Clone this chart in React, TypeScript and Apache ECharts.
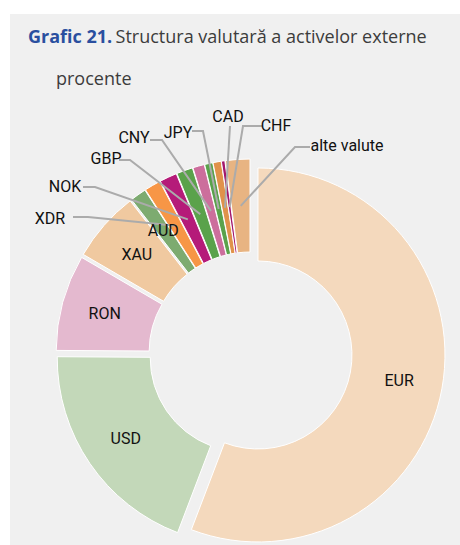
import React, { useEffect, useRef } from "react";
import * as echarts from "echarts";

// ---- data ----
const categories = ["EUR", "USD", "RON", "XAU", "AUD", "XDR", "NOK", "GBP", "CNY", "JPY", "CAD", "CHF", "alte valute"];
const shares = [55.8, 19.3, 8.3, 6.1, 1.4, 1.4, 1.5, 1.4, 1.0, 0.7, 0.7, 0.3, 2.1];
const insideLabelled = ["EUR", "USD", "RON", "XAU", "AUD"];
const titleBold = "Grafic 21.";
const titleRest = "Structura valutară a activelor externe";
const unitText = "procente";

// ---- styles / layout ----
const sliceColors = [
  "#f4d9bd", "#c3d8b9", "#e4b9cf", "#f0c9a0", "#7dab70", "#f79646", "#b51b79",
  "#5aa24b", "#cc6e9c", "#5aa24b", "#e0924a", "#a3176c", "#e8b482",
];
const W = 460;
const H = 545;
const CX = 250.5;
const CY = 353.6;
const R0 = 94;
const R1 = 187;
const EXPLODE = 7.6;

// label text position and line elbow points (text side first)
const outsideLayout: Record<string, { x: number; y: number; pts: number[][] }> = {
  XDR: { x: 50, y: 218, pts: [[73, 217], [88, 217]] },
  NOK: { x: 65, y: 186, pts: [[83, 187], [95, 187]] },
  GBP: { x: 106, y: 158, pts: [[119, 160], [130, 160]] },
  CNY: { x: 134, y: 137, pts: [[150, 140], [162, 140]] },
  JPY: { x: 178, y: 132, pts: [[192, 131], [203, 131]] },
  CAD: { x: 228, y: 116, pts: [[230, 126], [230, 126]] },
  CHF: { x: 276, y: 125, pts: [[262, 126], [243, 126]] },
  "alte valute": { x: 347, y: 145, pts: [[310, 147], [295, 147]] },
};

function midPoint(index: number): number[] {
  const total = shares.reduce((a, b) => a + b, 0);
  let cum = 0;
  for (let i = 0; i < index; i++) cum += shares[i];
  const theta = ((cum + shares[index] / 2) / total) * Math.PI * 2;
  const r = EXPLODE + (R0 + R1) / 2;
  return [CX + r * Math.sin(theta), CY - r * Math.cos(theta)];
}

export default function App() {
  const ref = useRef<HTMLDivElement>(null);
  useEffect(() => {
    if (!ref.current) return;
    const chart = echarts.init(ref.current, null, { renderer: "svg" });
    const labelFont = {
      color: "#111111",
      fontFamily: "Roboto, sans-serif",
      fontSize: 16,
    };
    const common = {
      type: "pie",
      center: [CX, CY],
      radius: [R0, R1],
      startAngle: 90,
      clockwise: true,
      avoidLabelOverlap: false,
      emphasis: { disabled: true },
      silent: true,
    };
    chart.setOption({
      animation: false,
      backgroundColor: "#ffffff",
      graphic: [
        {
          type: "rect",
          z: 0,
          shape: { x: 10, y: 14, width: 450, height: 531 },
          style: { fill: "#f0f0f0" },
        },
        {
          type: "text",
          z: 1,
          x: 28,
          y: 36,
          style: {
            text: `{b|${titleBold}} {n|${titleRest}}`,
            verticalAlign: "middle",
            rich: {
              b: { fontFamily: "'Open Sans', sans-serif", fontSize: 18, fontWeight: "bold", fill: "#2a4f9f" },
              n: { fontFamily: "'Open Sans', sans-serif", fontSize: 18, fill: "#3c3c3c" },
            },
          },
        },
        {
          type: "text",
          z: 1,
          x: 56,
          y: 78,
          style: {
            text: unitText,
            fontFamily: "'Open Sans', sans-serif",
            fontSize: 18,
            fill: "#3c3c3c",
            verticalAlign: "middle",
          },
        },
      ],
      series: [
        {
          ...common,
          z: 2,
          selectedMode: "multiple",
          selectedOffset: EXPLODE,
          itemStyle: { borderColor: "#ffffff", borderWidth: 1 },
          label: { show: false },
          labelLine: { show: false },
          data: categories.map((name, i) => ({
            name,
            value: shares[i],
            selected: true,
            itemStyle: { color: sliceColors[i] },
          })),
        },
        {
          ...common,
          z: 3,
          itemStyle: { color: "rgba(0,0,0,0)", borderWidth: 0 },
          label: { show: true, position: "outside", formatter: "{b}", ...labelFont },
          labelLine: { show: true, lineStyle: { color: "#ababab", width: 2 } },
          labelLayout: (params: any) => {
            const name = categories[params.dataIndex];
            const lay = outsideLayout[name];
            if (!lay) return {};
            const end = midPoint(params.dataIndex);
            return {
              x: lay.x,
              y: lay.y,
              align: "center",
              verticalAlign: "middle",
              labelLinePoints: [end, lay.pts[1], lay.pts[0]],
            };
          },
          data: categories.map((name, i) => ({
            name,
            value: shares[i],
            label: { show: !insideLabelled.includes(name) },
            labelLine: { show: !insideLabelled.includes(name) },
          })),
        },
        {
          ...common,
          z: 4,
          selectedMode: "multiple",
          selectedOffset: EXPLODE,
          itemStyle: { color: "rgba(0,0,0,0)", borderWidth: 0 },
          label: { show: true, position: "inside", formatter: "{b}", ...labelFont },
          labelLine: { show: false },
          data: categories.map((name, i) => ({
            name,
            value: shares[i],
            selected: true,
            label: { show: insideLabelled.includes(name) },
          })),
        },
      ],
    });
    return () => chart.dispose();
  }, []);
  return (
    <div
      ref={ref}
      style={{ position: "absolute", left: 0, top: 0, width: W, height: H }}
    />
  );
}
